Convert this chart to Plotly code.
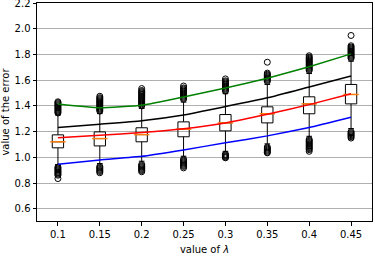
import plotly.graph_objects as go

lam = [0.1, 0.15, 0.2, 0.25, 0.3, 0.35, 0.4, 0.45]
tick_labels = ["0.1", "0.15", "0.2", "0.25", "0.3", "0.35", "0.4", "0.45"]

q1 = [1.074, 1.089, 1.121, 1.160, 1.206, 1.268, 1.339, 1.416]
median = [1.121, 1.146, 1.177, 1.219, 1.268, 1.339, 1.416, 1.489]
q3 = [1.175, 1.198, 1.230, 1.276, 1.333, 1.393, 1.471, 1.567]
lower_whisker = [0.944, 0.952, 0.970, 1.009, 1.047, 1.105, 1.164, 1.224]
upper_whisker = [1.330, 1.340, 1.380, 1.430, 1.495, 1.567, 1.652, 1.748]

outliers_upper = [
    [1.345, 1.353, 1.361, 1.369, 1.377, 1.385, 1.393, 1.401, 1.409, 1.417, 1.425, 1.432],
    [1.360, 1.368, 1.376, 1.384, 1.392, 1.400, 1.408, 1.416, 1.424, 1.432, 1.440, 1.448, 1.456, 1.464, 1.475],
    [1.400, 1.408, 1.416, 1.424, 1.432, 1.440, 1.448, 1.456, 1.464, 1.472, 1.480, 1.488, 1.496, 1.504, 1.512, 1.520, 1.535],
    [1.452, 1.460, 1.468, 1.476, 1.484, 1.492, 1.500, 1.508, 1.516, 1.524, 1.532, 1.540, 1.555],
    [1.515, 1.523, 1.531, 1.539, 1.547, 1.555, 1.563, 1.571, 1.579, 1.587, 1.595, 1.610],
    [1.590, 1.598, 1.606, 1.614, 1.622, 1.630, 1.638, 1.646, 1.655, 1.740],
    [1.675, 1.683, 1.691, 1.699, 1.707, 1.715, 1.723, 1.731, 1.739, 1.747, 1.755, 1.763, 1.771, 1.779, 1.790],
    [1.770, 1.778, 1.786, 1.794, 1.802, 1.810, 1.818, 1.826, 1.834, 1.842, 1.850, 1.858, 1.868, 1.948],
]
outliers_lower = [
    [0.925, 0.917, 0.909, 0.901, 0.893, 0.885, 0.877, 0.869, 0.861, 0.835],
    [0.930, 0.922, 0.914, 0.906, 0.898, 0.890, 0.880],
    [0.945, 0.937, 0.929, 0.921, 0.913, 0.905, 0.897, 0.888],
    [0.985, 0.977, 0.969, 0.961, 0.953, 0.945, 0.937, 0.929, 0.918],
    [1.025, 1.019, 1.013, 1.007, 1.001, 0.996],
    [1.080, 1.072, 1.064, 1.056, 1.048, 1.040, 1.035],
    [1.140, 1.132, 1.124, 1.116, 1.108, 1.100, 1.092, 1.084, 1.076, 1.068, 1.060, 1.047],
    [1.200, 1.192, 1.184, 1.176, 1.168, 1.160, 1.150],
]

green_line = [1.415, 1.385, 1.405, 1.470, 1.540, 1.615, 1.705, 1.805]
black_line = [1.233, 1.258, 1.285, 1.330, 1.395, 1.463, 1.548, 1.633]
red_line = [1.152, 1.172, 1.193, 1.222, 1.268, 1.335, 1.410, 1.494]
blue_line = [0.946, 0.980, 1.008, 1.058, 1.113, 1.167, 1.232, 1.312]

fig = go.Figure()

fig.add_trace(go.Box(
    x=lam, q1=q1, median=median, q3=q3,
    lowerfence=lower_whisker, upperfence=upper_whisker,
    width=0.0135, whiskerwidth=0.5,
    line=dict(color="black", width=1),
    fillcolor="rgba(0,0,0,0)", boxpoints=False, showlegend=False,
))

ox, oy = [], []
for xv, up, lo in zip(lam, outliers_upper, outliers_lower):
    for v in up + lo:
        ox.append(xv)
        oy.append(v)
fig.add_trace(go.Scatter(
    x=ox, y=oy, mode="markers", showlegend=False,
    marker=dict(symbol="circle-open", size=6, color="black", line=dict(width=1)),
))

fig.add_trace(go.Scatter(
    x=lam, y=median, mode="markers", showlegend=False,
    marker=dict(symbol="line-ew", size=11, color="#ff7f0e",
                line=dict(color="#ff7f0e", width=1.5)),
))

for vals, col in [(green_line, "green"), (black_line, "black"), (red_line, "red"), (blue_line, "blue")]:
    fig.add_trace(go.Scatter(
        x=lam, y=vals, mode="lines", showlegend=False,
        line=dict(color=col, width=1.5, shape="spline", smoothing=0.4),
    ))

font = dict(family="DejaVu Sans", size=10, color="black")
fig.update_layout(
    width=375, height=256,
    margin=dict(l=37, r=3, t=3, b=35),
    paper_bgcolor="white", plot_bgcolor="white",
    font=font,
    hovermode=False,
    xaxis=dict(
        range=[0.075, 0.475], tickvals=lam, ticktext=tick_labels,
        showgrid=False, zeroline=False, automargin=False,
        showline=True, linecolor="black", linewidth=1, mirror=True,
        ticks="outside", ticklen=3.5, tickcolor="black",
        title=dict(text="value of <i>λ</i>", font=font, standoff=7),
    ),
    yaxis=dict(
        range=[0.505, 2.2005], tickvals=[0.6, 0.8, 1.0, 1.2, 1.4, 1.6, 1.8, 2.0, 2.2],
        ticktext=["0.6", "0.8", "1.0", "1.2", "1.4", "1.6", "1.8", "2.0", "2.2"],
        showgrid=True, gridcolor="#b0b0b0", gridwidth=1, zeroline=False, automargin=False,
        ticklabeloverflow="allow",
        showline=True, linecolor="black", linewidth=1, mirror=True,
        ticks="outside", ticklen=3.5, tickcolor="black",
        title=dict(text="value of the error", font=font, standoff=5),
    ),
)

fig.write_html(
    "out.html",
    config={"displayModeBar": False, "staticPlot": True},
    post_script="document.body.style.margin='0px';document.body.style.overflow='hidden';",
)
